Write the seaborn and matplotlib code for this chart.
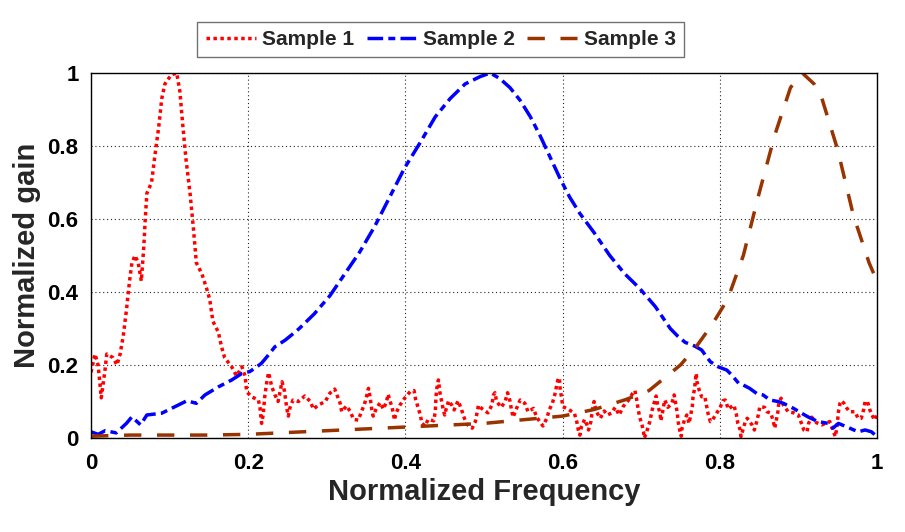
import numpy as np
import pandas as pd
import matplotlib
matplotlib.use('Agg')
import matplotlib.pyplot as plt
import seaborn as sns

# Sample 1 (red, dotted)
s1_x = [0.000, 0.005, 0.009, 0.013, 0.018, 0.020, 0.028, 0.033, 0.037, 0.041, 0.045, 0.049, 0.052, 0.056, 0.060,
        0.064, 0.067, 0.069, 0.071, 0.077, 0.081, 0.086, 0.090, 0.094, 0.102, 0.109, 0.113, 0.117, 0.121, 0.126,
        0.130, 0.134, 0.141, 0.147, 0.151, 0.155, 0.162, 0.166, 0.170, 0.179, 0.185, 0.192, 0.196, 0.198, 0.204,
        0.213, 0.215, 0.217, 0.219, 0.221, 0.224, 0.226, 0.230, 0.234, 0.238, 0.243, 0.246, 0.249, 0.251, 0.253,
        0.257, 0.264, 0.272, 0.279, 0.283, 0.289, 0.298, 0.304, 0.310, 0.317, 0.319, 0.325, 0.330, 0.334, 0.340,
        0.344, 0.348, 0.351, 0.353, 0.355, 0.357, 0.359, 0.363, 0.368, 0.372, 0.376, 0.378, 0.380, 0.383, 0.385,
        0.386, 0.388, 0.393, 0.399, 0.406, 0.411, 0.413, 0.419, 0.421, 0.425, 0.429, 0.436, 0.438, 0.439, 0.440,
        0.442, 0.444, 0.446, 0.448, 0.450, 0.452, 0.455, 0.459, 0.462, 0.467, 0.471, 0.474, 0.478, 0.485, 0.489,
        0.491, 0.493, 0.497, 0.505, 0.510, 0.512, 0.514, 0.516, 0.522, 0.527, 0.530, 0.533, 0.535, 0.537, 0.542,
        0.546, 0.552, 0.556, 0.563, 0.567, 0.575, 0.580, 0.583, 0.587, 0.590, 0.594, 0.596, 0.597, 0.599, 0.600,
        0.607, 0.615, 0.618, 0.620, 0.622, 0.624, 0.628, 0.631, 0.633, 0.636, 0.638, 0.640, 0.643, 0.648, 0.653,
        0.657, 0.662, 0.667, 0.672, 0.677, 0.684, 0.689, 0.692, 0.694, 0.696, 0.698, 0.701, 0.703, 0.704, 0.707,
        0.711, 0.714, 0.717, 0.719, 0.721, 0.724, 0.725, 0.727, 0.730, 0.734, 0.739, 0.742, 0.744, 0.746, 0.747,
        0.749, 0.751, 0.752, 0.755, 0.758, 0.761, 0.763, 0.765, 0.766, 0.768, 0.769, 0.770, 0.771, 0.774, 0.777,
        0.781, 0.783, 0.785, 0.788, 0.790, 0.796, 0.800, 0.804, 0.807, 0.811, 0.815, 0.818, 0.821, 0.823, 0.826,
        0.827, 0.830, 0.833, 0.835, 0.841, 0.844, 0.847, 0.849, 0.851, 0.857, 0.860, 0.865, 0.868, 0.870, 0.872,
        0.874, 0.875, 0.878, 0.881, 0.887, 0.894, 0.900, 0.904, 0.907, 0.911, 0.913, 0.917, 0.923, 0.930, 0.936,
        0.940, 0.943, 0.947, 0.949, 0.950, 0.951, 0.953, 0.955, 0.958, 0.961, 0.965, 0.972, 0.976, 0.980, 0.983,
        0.985, 0.988, 0.991, 0.995, 0.997, 1.000]
s1_y = [0.18, 0.23, 0.20, 0.11, 0.19, 0.23, 0.22, 0.20, 0.23, 0.28, 0.35, 0.43, 0.48, 0.50, 0.48,
        0.43, 0.52, 0.60, 0.67, 0.70, 0.77, 0.85, 0.93, 0.97, 0.995, 1.00, 0.95, 0.85, 0.76, 0.67,
        0.58, 0.48, 0.45, 0.41, 0.38, 0.32, 0.29, 0.25, 0.22, 0.195, 0.17, 0.195, 0.17, 0.127, 0.113,
        0.104, 0.082, 0.040, 0.063, 0.113, 0.159, 0.179, 0.140, 0.118, 0.100, 0.154, 0.130, 0.082, 0.060, 0.082,
        0.104, 0.100, 0.115, 0.100, 0.079, 0.090, 0.100, 0.123, 0.134, 0.095, 0.072, 0.088, 0.072, 0.051, 0.049,
        0.072, 0.093, 0.118, 0.136, 0.113, 0.081, 0.060, 0.081, 0.097, 0.079, 0.100, 0.120, 0.104, 0.084, 0.063,
        0.049, 0.068, 0.090, 0.109, 0.127, 0.130, 0.106, 0.063, 0.040, 0.033, 0.051, 0.047, 0.072, 0.115, 0.136,
        0.159, 0.124, 0.102, 0.079, 0.063, 0.081, 0.102, 0.090, 0.077, 0.102, 0.081, 0.060, 0.038, 0.027, 0.045,
        0.068, 0.090, 0.081, 0.069, 0.090, 0.118, 0.124, 0.100, 0.084, 0.101, 0.124, 0.102, 0.077, 0.057, 0.084,
        0.104, 0.095, 0.072, 0.081, 0.057, 0.033, 0.054, 0.077, 0.095, 0.118, 0.159, 0.165, 0.130, 0.109, 0.086,
        0.079, 0.068, 0.045, 0.022, 0.008, 0.031, 0.051, 0.036, 0.022, 0.045, 0.077, 0.100, 0.072, 0.054, 0.074,
        0.063, 0.068, 0.084, 0.063, 0.086, 0.104, 0.122, 0.130, 0.109, 0.081, 0.058, 0.036, 0.017, 0.000, 0.017,
        0.045, 0.077, 0.100, 0.115, 0.090, 0.068, 0.047, 0.069, 0.104, 0.084, 0.095, 0.118, 0.093, 0.068, 0.045,
        0.022, 0.005, 0.027, 0.049, 0.063, 0.040, 0.063, 0.086, 0.113, 0.136, 0.159, 0.177, 0.154, 0.130, 0.113,
        0.113, 0.090, 0.068, 0.045, 0.047, 0.068, 0.081, 0.102, 0.104, 0.079, 0.086, 0.090, 0.066, 0.040, 0.022,
        0.004, 0.027, 0.049, 0.054, 0.036, 0.022, 0.045, 0.063, 0.086, 0.084, 0.072, 0.068, 0.047, 0.027, 0.049,
        0.072, 0.095, 0.109, 0.090, 0.072, 0.069, 0.063, 0.040, 0.022, 0.017, 0.040, 0.057, 0.042, 0.036, 0.042,
        0.045, 0.027, 0.004, 0.027, 0.049, 0.072, 0.095, 0.102, 0.095, 0.084, 0.072, 0.072, 0.054, 0.054, 0.077,
        0.100, 0.100, 0.077, 0.057, 0.049, 0.065]

# Sample 2 (blue, dash-dot)
s2_x = [0.000, 0.009, 0.018, 0.032, 0.045, 0.052, 0.063, 0.071, 0.090, 0.107, 0.122, 0.134, 0.145, 0.162, 0.179,
        0.192, 0.202, 0.211, 0.217, 0.224, 0.234, 0.247, 0.255, 0.265, 0.284, 0.304, 0.323, 0.342, 0.361, 0.380,
        0.399, 0.419, 0.438, 0.457, 0.476, 0.495, 0.508, 0.520, 0.533, 0.546, 0.559, 0.571, 0.584, 0.597, 0.609,
        0.622, 0.641, 0.660, 0.679, 0.698, 0.718, 0.737, 0.747, 0.756, 0.768, 0.777, 0.783, 0.788, 0.798, 0.809,
        0.815, 0.824, 0.830, 0.838, 0.847, 0.855, 0.864, 0.874, 0.881, 0.894, 0.904, 0.913, 0.925, 0.938, 0.944,
        0.951, 0.961, 0.976, 0.985, 0.993, 1.000]
s2_y = [0.017, 0.010, 0.020, 0.014, 0.040, 0.058, 0.036, 0.063, 0.068, 0.086, 0.102, 0.095, 0.118, 0.140, 0.159,
        0.177, 0.182, 0.195, 0.205, 0.223, 0.250, 0.268, 0.282, 0.300, 0.340, 0.390, 0.450, 0.510, 0.580, 0.660,
        0.740, 0.810, 0.880, 0.930, 0.970, 0.990, 1.000, 0.985, 0.960, 0.925, 0.880, 0.830, 0.770, 0.710, 0.660,
        0.615, 0.560, 0.500, 0.450, 0.410, 0.360, 0.300, 0.278, 0.262, 0.252, 0.241, 0.223, 0.209, 0.195, 0.186,
        0.173, 0.150, 0.145, 0.136, 0.122, 0.118, 0.104, 0.100, 0.095, 0.081, 0.068, 0.057, 0.045, 0.040, 0.027,
        0.040, 0.031, 0.017, 0.022, 0.017, 0.004]

# Sample 3 (brown, dashed)
s3_x = [0.00, 0.05, 0.10, 0.15, 0.20, 0.25, 0.30, 0.35, 0.40, 0.45, 0.50, 0.55, 0.60, 0.64, 0.68, 0.71,
        0.73, 0.75, 0.77, 0.79, 0.81, 0.83, 0.85, 0.87, 0.89, 0.905, 0.92, 0.93, 0.95, 0.97, 0.99, 1.00]
s3_y = [0.005, 0.008, 0.008, 0.008, 0.010, 0.015, 0.020, 0.025, 0.030, 0.035, 0.040, 0.050, 0.060, 0.078, 0.105, 0.130,
        0.165, 0.200, 0.250, 0.310, 0.380, 0.500, 0.670, 0.830, 0.960, 1.000, 0.970, 0.930, 0.790, 0.610, 0.480, 0.430]

ticks = [0, 0.2, 0.4, 0.6, 0.8, 1]
tick_labels = ['0', '0.2', '0.4', '0.6', '0.8', '1']

sns.set_style('white')
plt.rcParams['font.family'] = ['Liberation Sans', 'DejaVu Sans']
plt.rcParams['font.weight'] = 'bold'

fig, ax = plt.subplots(figsize=(9.05, 5.32), dpi=100)
fig.subplots_adjust(left=0.1006, right=0.969, bottom=0.1767, top=0.8628)

sns.lineplot(x=s1_x, y=s1_y, ax=ax, color='#ff0000', lw=2.5, linestyle=(0, (1, 1)),
             label='Sample 1', sort=False, estimator=None)
sns.lineplot(x=s2_x, y=s2_y, ax=ax, color='#0000ff', lw=2.5, linestyle=(0, (4.5, 1.5, 2, 1.5)),
             label='Sample 2', sort=False, estimator=None)
sns.lineplot(x=s3_x, y=s3_y, ax=ax, color='#993300', lw=2.5, linestyle=(0, (5, 4.5)),
             label='Sample 3', sort=False, estimator=None)

ax.set_xlim(0, 1)
ax.set_ylim(0, 1)
ax.set_xticks(ticks)
ax.set_xticklabels(tick_labels)
ax.set_yticks(ticks)
ax.set_yticklabels(tick_labels)
ax.grid(True, color='0.15', linestyle=(0, (1, 2.5)), linewidth=0.8)
ax.tick_params(direction='in', length=5, width=1, colors='black', labelsize=16)
ax.tick_params(axis='x', pad=11)
ax.tick_params(axis='y', pad=9)
for s in ax.spines.values():
    s.set_color('black')
    s.set_linewidth(1)

ax.set_xlabel('Normalized Frequency', fontsize=21, fontweight='bold', labelpad=3)
ax.set_ylabel('Normalized gain', fontsize=21, fontweight='bold', labelpad=5)

leg = ax.legend(loc='center', bbox_to_anchor=(0.487, 0.926), bbox_transform=fig.transFigure,
                ncol=3, frameon=True, fancybox=False, edgecolor='0.3', fontsize=15,
                handlelength=2.4, handletextpad=0.3, columnspacing=0.6, borderpad=0.4)
leg.get_frame().set_linewidth(1)

fig.savefig('out.png', dpi=100)
